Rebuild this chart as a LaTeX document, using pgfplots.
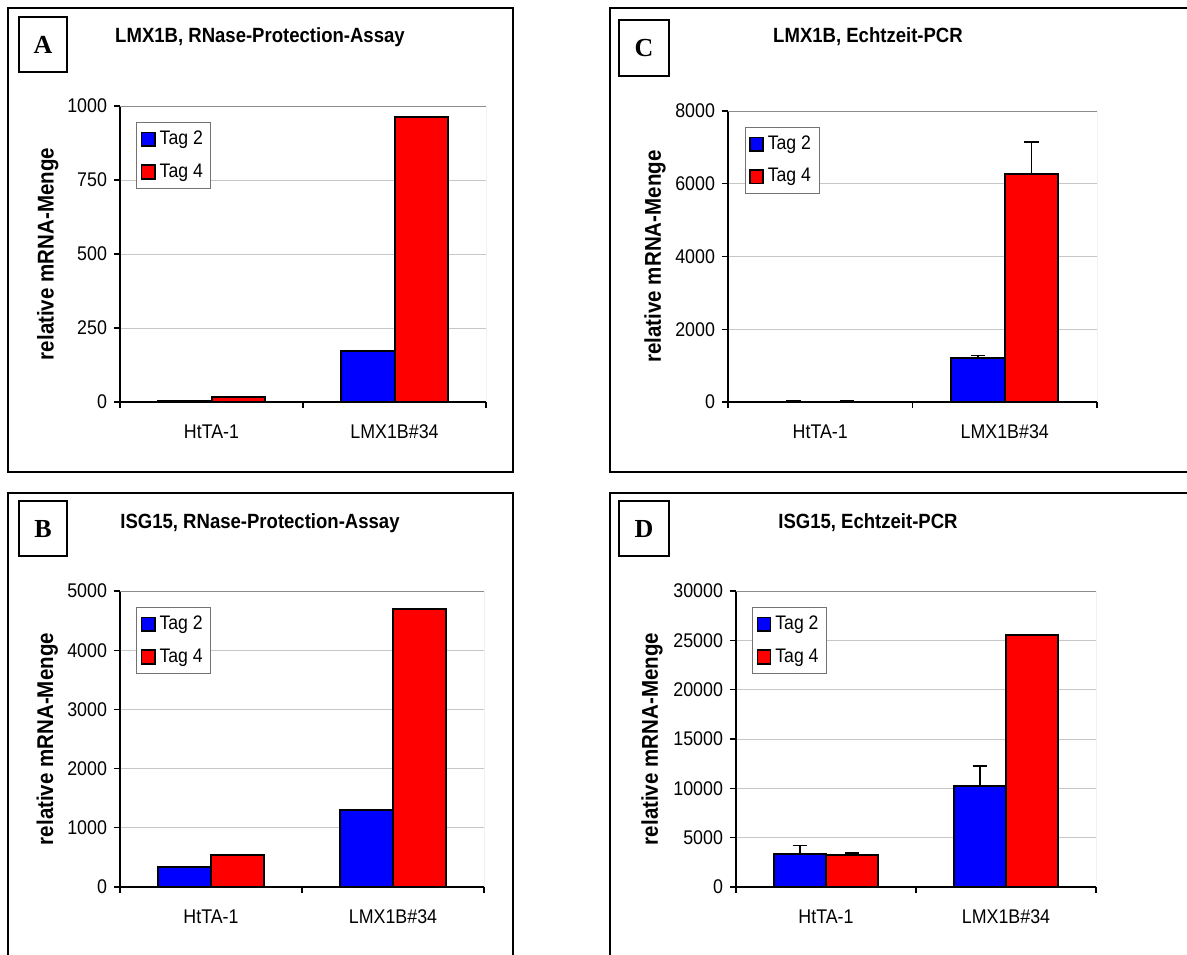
\documentclass[border=0pt]{standalone}
\usepackage{fontspec}
\setmainfont{Liberation Sans}[FakeStretch=0.9]
\newfontfamily\timesfont{Liberation Serif}
\usepackage{pgfplots}
\pgfplotsset{compat=1.18}
\definecolor{xblue}{RGB}{0,0,255}
\definecolor{xred}{RGB}{255,0,0}
\pgfplotsset{
  sq legend/.style={legend image code/.code={\draw[##1,line width=0.8pt] (0pt,-3.4pt) rectangle (6.6pt,3.4pt);}},
  panel/.style={
    scale only axis, anchor=south west,
    ybar=0pt, bar width=0.29,
    xmin=-0.5, xmax=1.5, ymin=0,
    xtick={-0.5,0.5,1.5}, x tick label as interval,
    xticklabels={HtTA-1,LMX1B\#34},
    axis x line*=bottom, axis y line*=left,
    axis line style={black, line width=0.6pt},
    tick align=outside, major tick length=3pt,
    tick style={black, line width=0.6pt},
    ymajorgrids, grid style={black!22, line width=0.5pt},
    scaled y ticks=false,
    /pgf/number format/1000 sep={},
    /pgf/number format/assume math mode=true,
    ticklabel style={font=\fontsize{9.9}{11}\selectfont},
    xticklabel style={yshift=-5pt},
    ylabel={relative mRNA-Menge},
    ylabel style={font=\bfseries\fontsize{11.4}{13}\selectfont, anchor=center},
    legend style={at={(0.045,0.945)}, anchor=north west, draw=black!55, fill=white,
      font=\fontsize{9.8}{11}\selectfont, inner xsep=2pt, inner ysep=2.2pt, row sep=4pt},
    legend cell align=left,
    every axis plot/.append style={draw=black, line width=1pt},
    error bars/y dir=plus, error bars/y explicit,
    error bars/error bar style={black, line width=0.75pt},
    error bars/error mark options={rotate=90, mark size=3.6pt, black, line width=0.9pt},
  }
}
\begin{document}
\begin{tikzpicture}
\useasboundingbox (0pt,0pt) rectangle (593.5pt,-477pt);
\clip (0pt,0pt) rectangle (593.5pt,-477pt);
% outer boxes
\draw[line width=0.9pt] (4pt,-4pt) rectangle (256.5pt,-236pt);
\draw[line width=0.9pt] (305pt,-4pt) rectangle (600pt,-236pt);
\draw[line width=0.9pt] (4pt,-246.5pt) rectangle (256.5pt,-490pt);
\draw[line width=0.9pt] (305pt,-246.5pt) rectangle (600pt,-490pt);
% letter boxes
\draw[line width=0.8pt] (9.5pt,-8.5pt) rectangle (33.5pt,-36pt);
\node[font=\timesfont\bfseries\fontsize{13}{14}\selectfont] at (21.5pt,-22.3pt) {A};
\draw[line width=0.8pt] (309.5pt,-10pt) rectangle (334.5pt,-38pt);
\node[font=\timesfont\bfseries\fontsize{13}{14}\selectfont] at (322pt,-24pt) {C};
\draw[line width=0.8pt] (9.5pt,-250.5pt) rectangle (33.5pt,-278pt);
\node[font=\timesfont\bfseries\fontsize{13}{14}\selectfont] at (21.5pt,-264.3pt) {B};
\draw[line width=0.8pt] (309.5pt,-250.5pt) rectangle (334.5pt,-278pt);
\node[font=\timesfont\bfseries\fontsize{13}{14}\selectfont] at (322pt,-264.3pt) {D};
% titles
\node[font=\bfseries\fontsize{10.3}{12}\selectfont] at (130pt,-18.5pt) {LMX1B, RNase-Protection-Assay};
\node[font=\bfseries\fontsize{10.3}{12}\selectfont] at (434pt,-18.5pt) {LMX1B, Echtzeit-PCR};
\node[font=\bfseries\fontsize{10.3}{12}\selectfont] at (130pt,-261.5pt) {ISG15, RNase-Protection-Assay};
\node[font=\bfseries\fontsize{10.3}{12}\selectfont] at (434pt,-261.5pt) {ISG15, Echtzeit-PCR};

% Panel A
\begin{axis}[panel, at={(60pt,-201pt)}, width=183pt, height=148pt,
  ymax=1000, ytick={0,250,...,1000},
  ylabel style={at={(axis description cs:-0.197,0.5)}}]
\addplot[fill=xblue, sq legend] coordinates {(0,5) (1,171)};
\addplot[fill=xred, sq legend] coordinates {(0,16) (1,962)};
\legend{Tag 2,Tag 4}
\draw[black!45, line width=0.5pt] (rel axis cs:0,1) -- (rel axis cs:1,1) -- (rel axis cs:1,0);
\end{axis}

% Panel C
\begin{axis}[panel, at={(364pt,-201pt)}, width=184.5pt, height=145.5pt,
  ymax=8000, ytick={0,2000,...,8000},
  ylabel style={at={(axis description cs:-0.198,0.5)}}]
\addplot[fill=xblue, sq legend] coordinates {(0,3) +- (0,25) (1,1208) +- (0,72)};
\addplot[fill=xred, sq legend] coordinates {(0,2) +- (0,22) (1,6270) +- (0,887)};
\legend{Tag 2,Tag 4}
\draw[black!45, line width=0.5pt] (rel axis cs:0,1) -- (rel axis cs:1,1) -- (rel axis cs:1,0);
\end{axis}

% Panel B
\begin{axis}[panel, at={(60pt,-443.5pt)}, width=182pt, height=148pt,
  ymax=5000, ytick={0,1000,...,5000},
  ylabel style={at={(axis description cs:-0.2,0.5)}}]
\addplot[fill=xblue, sq legend] coordinates {(0,337) (1,1293)};
\addplot[fill=xred, sq legend] coordinates {(0,533) (1,4691)};
\legend{Tag 2,Tag 4}
\draw[black!45, line width=0.5pt] (rel axis cs:0,1) -- (rel axis cs:1,1) -- (rel axis cs:1,0);
\end{axis}

% Panel D
\begin{axis}[panel, at={(368pt,-443.5pt)}, width=180pt, height=148pt,
  ymax=30000, ytick={0,5000,...,30000},
  ylabel style={at={(axis description cs:-0.233,0.5)}}]
\addplot[fill=xblue, sq legend] coordinates {(0,3341) +- (0,871) (1,10287) +- (0,1995)};
\addplot[fill=xred, sq legend] coordinates {(0,3270) +- (0,172) (1,25576) +- (0,0)};
\legend{Tag 2,Tag 4}
\draw[black!45, line width=0.5pt] (rel axis cs:0,1) -- (rel axis cs:1,1) -- (rel axis cs:1,0);
\end{axis}
\end{tikzpicture}
\end{document}
